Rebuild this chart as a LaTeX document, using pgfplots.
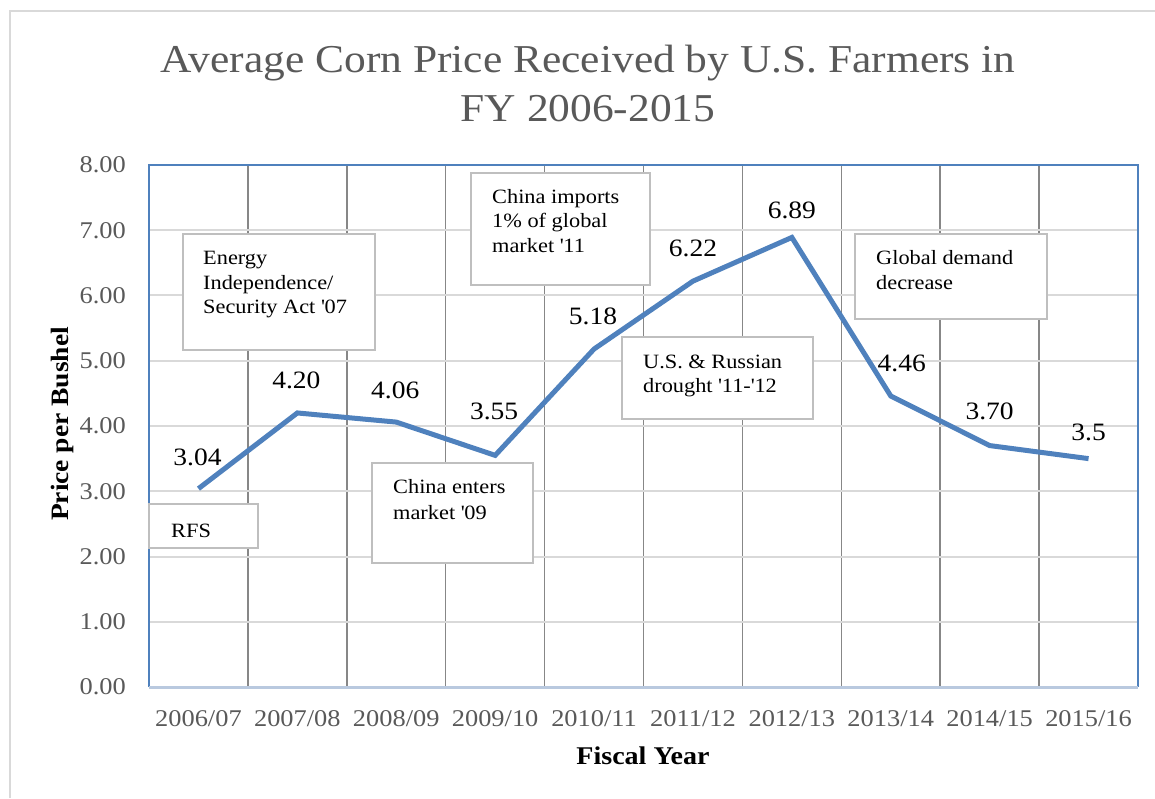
\documentclass[border=0pt]{standalone}
\usepackage{fontspec}
\setmainfont[FakeStretch=1.1]{Liberation Serif}
\usepackage{pgfplots}
\pgfplotsset{compat=1.18}
\definecolor{lineblue}{HTML}{4F81BD}
\definecolor{borderblue}{HTML}{4F81BD}
\definecolor{botline}{HTML}{B9C9DF}
\definecolor{vgrid}{HTML}{878787}
\definecolor{hgrid}{HTML}{D9D9D9}
\definecolor{txtgrey}{HTML}{595959}
\definecolor{boxgrey}{HTML}{BFBFBF}
\definecolor{frame}{HTML}{D9D9D9}
\newcommand{\q}{\textquotesingle}

\pgfplotstableread{
x y lab dx dy
0 3.04 3.04 -1 31
1 4.20 4.20 -1 33
2 4.06 4.06 -1 32
3 3.55 3.55 -1 44
4 5.18 5.18 -1 33
5 6.22 6.22 0 33
6 6.89 6.89 0 27
7 4.46 4.46 11 33
8 3.70 3.70 0 34
9 3.50 3.5 0 26
}\corndata

\begin{document}
\begin{tikzpicture}
\path[use as bounding box] (0,0) rectangle (1155pt,798pt);
\draw[frame, line width=1.5pt] (10pt,0pt) -- (10pt,787pt) -- (1155pt,787pt);

\node[font=\fontsize{39.5}{49}\selectfont, text=txtgrey, anchor=base] at (588pt,725pt) {Average Corn Price Received by U.S. Farmers in};
\node[font=\fontsize{39.5}{49}\selectfont, text=txtgrey, anchor=base] at (588pt,676pt) {FY 2006-2015};

\begin{axis}[
  at={(149pt,111pt)}, anchor=south west,
  scale only axis, width=989pt, height=522pt,
  xmin=-0.5, xmax=9.5, ymin=0, ymax=8,
  clip=false,
  xtick={0,...,9},
  xticklabels={2006/07,2007/08,2008/09,2009/10,2010/11,2011/12,2012/13,2013/14,2014/15,2015/16},
  minor xtick={0.5,1.5,...,8.5},
  ytick={0,1,...,8},
  tick style={draw=none},
  ymajorgrids, xminorgrids,
  major grid style={hgrid, line width=2pt},
  minor grid style={vgrid, line width=1.5pt},
  axis line style={draw=none},
  /pgf/number format/assume math mode=true,
  tick label style={font=\fontsize{24}{24}\selectfont, text=txtgrey, inner sep=0pt},
  yticklabel style={anchor=east, xshift=-23pt, /pgf/number format/.cd, fixed, fixed zerofill, precision=2},
  xticklabel style={anchor=north, yshift=-23pt},
]
\addplot[lineblue, line width=5pt, mark=none,
  nodes near coords, point meta=explicit symbolic,
  visualization depends on={\thisrow{dx} \as \dx},
  visualization depends on={\thisrow{dy} \as \dy},
  every node near coord/.append style={anchor=center, xshift=\dx pt, yshift=\dy pt,
     font=\fontsize{25}{25}\selectfont, text=black, inner sep=0pt}
] table[x=x, y=y, meta=lab] {\corndata};
\draw[borderblue, line width=2pt] (axis cs:-0.5,0) -- (axis cs:-0.5,8) -- (axis cs:9.5,8) -- (axis cs:9.5,0);
\draw[botline, line width=3pt] (axis cs:-0.5,0) -- (axis cs:9.5,0);
\end{axis}

% axis titles
\node[font=\bfseries\fontsize{25}{25}\selectfont, rotate=90] at (62pt,374pt) {Price per Bushel};
\node[font=\bfseries\fontsize{25.5}{25.5}\selectfont, anchor=base] at (643pt,34pt) {Fiscal Year};

% annotation boxes
\tikzset{ann/.style={font=\fontsize{20.3}{24.5}\selectfont, anchor=base west, inner sep=0pt, text=black}}
\draw[boxgrey, line width=2pt, fill=white] (149pt,250pt) rectangle (258pt,294pt);
\node[ann] at (171pt,261pt) {RFS};

\draw[boxgrey, line width=2pt, fill=white] (183pt,448pt) rectangle (375pt,564pt);
\node[ann] at (203pt,533pt) {Energy};
\node[ann] at (203pt,508pt) {Independence/};
\node[ann] at (203pt,484pt) {Security Act \q07};

\draw[boxgrey, line width=2pt, fill=white] (372pt,235pt) rectangle (533pt,335pt);
\node[ann] at (393pt,304pt) {China enters};
\node[ann] at (393pt,279pt) {market \q09};

\draw[boxgrey, line width=2pt, fill=white] (471pt,513pt) rectangle (650pt,625pt);
\node[ann] at (492pt,594pt) {China imports};
\node[ann] at (492pt,570pt) {1\% of global};
\node[ann] at (492pt,545pt) {market \q11};

\draw[boxgrey, line width=2pt, fill=white] (622pt,379pt) rectangle (813pt,461pt);
\node[ann] at (643pt,429pt) {U.S. \& Russian};
\node[ann] at (643pt,405pt) {drought \q11-\q12};

\draw[boxgrey, line width=2pt, fill=white] (855pt,479pt) rectangle (1047pt,564pt);
\node[ann] at (876pt,533pt) {Global demand};
\node[ann] at (876pt,508pt) {decrease};
\end{tikzpicture}
\end{document}
